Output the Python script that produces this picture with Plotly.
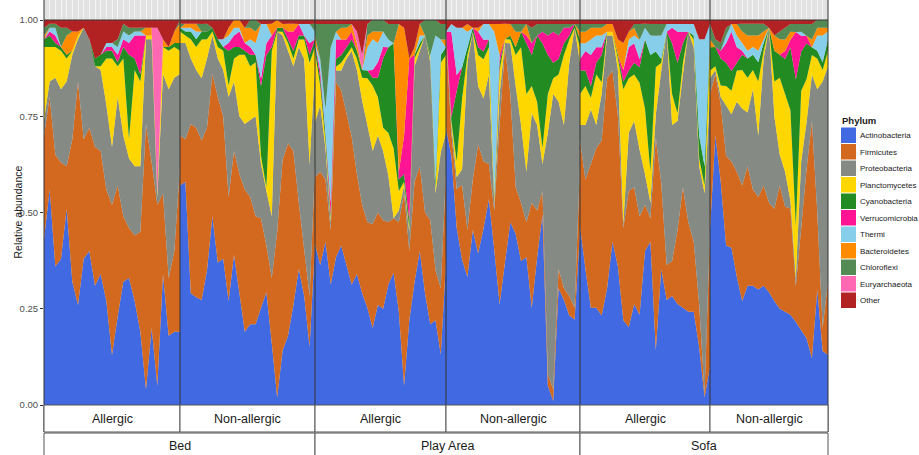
import plotly.graph_objects as go

# ---------------- data ----------------
phyla = ["Actinobacteria", "Firmicutes", "Proteobacteria", "Planctomycetes", "Cyanobacteria",
         "Verrucomicrobia", "Thermi", "Bacteroidetes", "Chloroflexi", "Euryarchaeota", "Other"]
colors = ["#4169E1", "#D2691E", "#858A85", "#FFD700", "#228B22",
          "#FF1493", "#87CEEB", "#FF8C00", "#548B54", "#FF69B4", "#B22222"]

panel_sizes = [25, 26, 26, 26, 25, 23]
panel_status = ["Allergic", "Non-allergic", "Allergic", "Non-allergic", "Allergic", "Non-allergic"]
locations = ["Bed", "Play Area", "Sofa"]
y_ticks = [0, 0.25, 0.5, 0.75, 1.0]
y_ticklabels = ["0.00", "0.25", "0.50", "0.75", "1.00"]

# relative abundance per sample (panels in order: Bed-A, Bed-N, Play-A, Play-N, Sofa-A, Sofa-N)
actinobacteria = (
    [.43, .56, .36, .38, .51, .32, .26, .38, .40, .31, .34, .27, .13, .23, .32, .33, .27, .19, .04, .20, .05, .34, .18, .19, .19]
    + [.57, .58, .29, .28, .27, .35, .49, .37, .38, .27, .39, .29, .19, .21, .21, .25, .29, .16, .02, .14, .18, .26, .35, .28, .15, .42]
    + [.41, .36, .42, .31, .38, .41, .36, .31, .34, .29, .25, .20, .26, .25, .31, .34, .24, .05, .22, .32, .40, .29, .21, .22, .13, .37]
    + [.72, .64, .45, .37, .33, .45, .39, .45, .53, .40, .26, .37, .47, .44, .37, .38, .25, .38, .49, .05, .01, .30, .27, .23, .22, .45]
    + [.46, .35, .25, .25, .23, .30, .42, .36, .22, .20, .26, .23, .40, .42, .14, .35, .27, .28, .26, .25, .24, .24, .15, .02, .10]
    + [.45, .70, .58, .41, .40, .33, .27, .31, .31, .30, .31, .29, .27, .25, .24, .23, .21, .19, .17, .12, .30, .14, .13]
)
firmicutes = (
    [.27, .24, .29, .25, .11, .37, .58, .31, .32, .36, .32, .29, .39, .34, .17, .13, .17, .26, .69, .43, .47, .21, .15, .21, .43]
    + [.13, .11, .44, .44, .41, .37, .37, .43, .37, .27, .27, .31, .37, .33, .28, .23, .12, .17, .43, .49, .50, .40, .17, .12, .13, .20]
    + [.17, .24, .16, .14, .45, .40, .39, .38, .26, .23, .22, .27, .24, .23, .16, .14, .23, .50, .18, .26, .22, .21, .27, .13, .17, .23]
    + [.24, .06, .10, .19, .12, .13, .28, .17, .09, .10, .46, .56, .33, .12, .15, .09, .27, .12, .06, .03, .03, .05, .03, .05, .03, .17]
    + [.22, .23, .37, .41, .45, .54, .44, .39, .24, .35, .30, .25, .12, .06, .54, .22, .09, .09, .19, .31, .23, .18, .11, .01, .35]
    + [.35, .16, .20, .23, .22, .27, .30, .31, .25, .24, .26, .23, .24, .32, .27, .27, .09, .26, .43, .61, .20, .06, .19]
)
proteobacteria = (
    [.04, .04, .20, .19, .22, .22, .11, .29, .23, .21, .21, .22, .15, .23, .21, .18, .18, .17, .22, .32, .02, .31, .49, .45, .24]
    + [.24, .25, .17, .15, .16, .18, .10, .10, .12, .26, .18, .15, .17, .20, .26, .14, .14, .16, .52, .32, .24, .22, .40, .49, .34, .26]
    + [.14, .17, .08, .02, .03, .05, .14, .22, .27, .27, .25, .19, .20, .18, .12, 0, .03, .02, .05, .30, .30, .46, .41, .20, .35, .10]
    + [.01, .02, .03, .04, .43, .38, .15, .16, .23, .02, .08, .01, .13, .26, .20, .13, .23, .22, .07, .62, .76, .43, .42, .60, .72, .26]
    + [.04, .14, .14, .06, .12, .11, .09, .12, .01, .15, .17, .17, .08, .04, .06, .29, .60, .35, .28, .29, .49, .50, .36, .52, .35]
    + [.04, .01, .02, .13, .12, .18, .20, .14, .26, .16, .33, .45, .24, .08, .09, .02, .02, .17, .12, .12, .32, .64, .56]
)
planctomycetes = (
    [.19, .09, .08, .10, .06, .01, .01, 0, 0, 0, .01, .12, .23, .08, .20, .05, .25, .22, .01, .01, .01, .07, .10, .08, .06]
    + [.03, .02, .05, .06, .10, .05, .01, .03, .05, .03, .06, .16, .18, .14, .14, .02, .01, .43, 0, .01, .02, .02, .02, .05, .26, .05]
    + [.18, .05, .02, .01, .01, .02, .01, .01, .03, .06, .12, .17, .10, .06, .11, .18, .05, .01, .01, .02, .01, 0, .01, .01, .23, .20]
    + [0, .01, .04, .18, .02, 0, .08, .10, .07, .01, .06, .01, .01, .08, .20, .20, .07, .06, .04, .10, .04, .07, .18, .06, 0, .04]
    + [.08, .10, .03, .13, .03, .01, .01, .03, .35, .14, .12, .17, .17, .08, .12, .02, 0, .08, .02, .03, 0, .02, .02, .02, .13]
    + [.02, .01, .03, .05, .06, .08, .10, .09, .05, .14, .02, 0, .09, .20, .20, .23, .13, .18, .11, .05, .08, .03, .04]
)
cyanobacteria = (
    [.02, .03, .01, .01, .01, 0, 0, 0, 0, .02, .03, .02, .02, .01, .03, .22, .03, .02, 0, 0, 0, 0, .01, .01, .02]
    + [.01, .01, .02, .02, .02, .02, .01, .02, .01, .09, .03, .02, .01, .03, .02, .18, .34, .01, .01, .01, .01, .02, .01, .01, .02, .02]
    + [.02, .02, .02, .01, .02, .02, .02, .02, .02, .02, .02, .02, .05, .18, .22, .27, .03, .02, .02, .01, .01, 0, .01, .02, .02, .02]
    + [0, .01, .18, .08, .02, .01, .02, .02, .02, .01, .02, 0, .01, .02, .04, .13, .08, .17, .27, .10, .04, .04, .03, .01, .01, .02]
    + [.06, .04, .03, .03, .07, 0, 0, .01, .02, .02, .03, .04, .18, .30, .04, .01, 0, .13, .13, .05, 0, .01, .06, .05, .02]
    + [.06, .05, .07, .06, .05, .02, .04, .05, .04, .05, .02, 0, .08, .06, .09, .16, .37, .10, .09, .02, .02, .02, .03]
)
verrucomicrobia = (
    [0, .01, .02, 0, 0, 0, 0, 0, 0, 0, 0, .01, .01, .02, .02, .03, .06, .10, 0, 0, 0, 0, 0, 0, 0]
    + [0, 0, 0, 0, 0, 0, 0, 0, 0, .02, .03, .04, .02, .02, 0, .02, .03, .03, 0, 0, .02, .05, .03, 0, .03, 0]
    + [0, .02, 0, .03, .05, .04, .02, .02, 0, 0, 0, .02, .04, .03, 0, 0, .02, .10, .42, 0, 0, 0, 0, 0, 0, 0]
    + [0, .22, .04, 0, 0, 0, .04, .03, 0, 0, .02, 0, 0, 0, 0, .02, .03, 0, .03, .05, .08, .06, .04, .02, 0, 0]
    + [.03, .05, .08, .04, .02, 0, 0, 0, .03, .06, .05, .02, 0, 0, 0, 0, 0, .04, .08, .03, 0, 0, 0, 0, 0]
    + [0, 0, .02, .05, .10, .04, .01, 0, 0, 0, 0, 0, 0, 0, .02, .02, .12, .04, .02, 0, 0, 0, 0]
)
thermi = (
    [0, .01, .02, 0, 0, 0, 0, 0, 0, 0, 0, .01, .01, .02, .02, .02, .01, .01, 0, 0, 0, 0, 0, 0, 0]
    + [0, .01, .01, .02, 0, 0, 0, 0, .02, .02, .02, .01, 0, .02, .03, .14, .05, 0, 0, 0, 0, 0, 0, .03, .05, .02]
    + [0, .03, .06, .40, .02, 0, 0, 0, 0, 0, .06, .08, .05, .04, .02, 0, 0, 0, 0, 0, .02, 0, 0, .38, .04, 0]
    + [0, .02, .12, .10, .04, 0, 0, .04, .04, .42, 0, 0, 0, 0, 0, 0, 0, 0, 0, 0, 0, 0, 0, 0, 0, 0]
    + [.04, .02, .04, .03, .03, 0, 0, 0, 0, .02, .02, .05, .03, .05, .04, .06, .02, .01, .02, .02, .02, .03, .25, .33, .03]
    + [0, 0, 0, .02, .02, .03, .02, .02, .02, .03, .01, 0, 0, 0, 0, 0, 0, .01, 0, 0, .04, .07, .02]
)
bacteroidetes = (
    [.01, 0, 0, 0, .05, .05, .01, 0, 0, 0, 0, 0, 0, 0, 0, 0, 0, 0, .02, .02, 0, .02, 0, .03, .05]
    + [0, .01, .01, .02, 0, 0, 0, 0, 0, .02, .02, .02, .04, .03, .03, 0, 0, .03, .02, .01, .02, .02, 0, 0, 0, 0]
    + [.02, 0, 0, 0, 0, .03, .03, .02, .02, 0, .03, .02, .03, 0, 0, 0, .38, .28, 0, .02, .03, 0, 0, 0, 0, .02]
    + [0, 0, 0, 0, .02, 0, .01, 0, 0, .02, .08, .04, .03, .04, 0, .03, 0, 0, 0, 0, 0, 0, 0, 0, 0, .02]
    + [.03, .03, .03, .02, .02, .02, .02, .04, .07, .02, .02, 0, 0, 0, 0, 0, 0, 0, 0, 0, 0, 0, 0, 0, 0]
    + [.02, 0, 0, 0, 0, .03, .03, .04, .03, .04, .02, 0, .04, .04, .03, .02, 0, 0, 0, .02, .02, .02, .01]
)
chloroflexi = (
    [.02, .01, .01, .05, .02, 0, 0, 0, 0, 0, 0, 0, 0, .02, .02, .02, .01, .01, 0, 0, 0, 0, 0, 0, .01]
    + [.01, 0, 0, 0, .02, .02, 0, 0, 0, 0, 0, 0, 0, .02, .03, 0, 0, 0, 0, 0, 0, 0, 0, 0, 0, .02]
    + [.03, .09, .22, .06, .02, .01, .01, 0, 0, 0, .03, .03, .03, .03, .04, .05, 0, 0, 0, 0, 0, .04, .09, .04, .04, .04]
    + [0, 0, 0, 0, 0, 0, 0, 0, 0, 0, 0, 0, 0, .02, .02, 0, .04, .03, .02, .03, .02, .03, .01, .01, 0, .02]
    + [.02, .02, .01, .01, .01, 0, 0, 0, 0, 0, .01, .04, .01, .03, .03, .03, 0, 0, 0, 0, 0, 0, 0, 0, 0]
    + [.04, .02, .02, .02, 0, 0, .02, .03, .03, .03, .02, 0, 0, .02, .03, .02, .02, .02, .03, .04, .02, .02, .02]
)
euryarchaeota = (
    [0, 0, 0, 0, 0, 0, 0, 0, 0, 0, 0, 0, 0, 0, 0, 0, 0, 0, 0, 0, .43, 0, 0, 0, 0]
    + [0] * 26
    + [0, 0, 0, 0, 0, 0, 0, 0, .03, .04, 0, 0, 0, 0, 0, 0, 0, 0, 0, 0, 0, 0, 0, 0, 0, 0]
    + [0] * 26
    + [0] * 25
    + [0] * 23
)
other = (
    [.02, .01, .01, .02, .02, .03, .03, .02, .05, .10, .09, .06, .06, .05, .01, .02, .02, .02, .02, .02, .02, .05, .07, .03, 0]
    + [.01, .01, .01, .01, .01, .01, .02, .05, .05, .02, 0, 0, .02, 0, 0, .01, .01, .01, 0, .01, .01, .01, .01, .01, .01, .01]
    + [.01, .01, .01, .01, .01, .01, .01, .01, .03, .09, .01, 0, 0, 0, .01, .01, .01, .02, .10, .07, .01, 0, 0, 0, .01, .01]
    + [.03, .01, .02, .02, .01, .02, .02, .01, .01, .01, .01, .01, .01, .01, .01, .01, .02, .01, .01, .01, .01, .01, .01, .01, .01, .01]
    + [.01, .01, .01, .01, .01, .01, .01, .05, .06, .03, .01, .01, .01, .01, .01, .01, .01, .01, .01, .01, .01, .01, .05, .05, .01]
    + [.01, .05, .06, .02, .01, .01, .01, .01, .01, .01, .01, .02, .04, .03, .02, .01, .01, .01, .01, .01, 0, 0, 0]
)

series = [actinobacteria, firmicutes, proteobacteria, planctomycetes, cyanobacteria,
          verrucomicrobia, thermi, bacteroidetes, chloroflexi, euryarchaeota, other]

# ---------------- layout geometry (pixels of the 919x455 canvas) ----------------
W, H = 919, 455
PX_L, PX_R = 44, 828          # plot area left / right
PX_ONE, PX_ZERO = 20, 405     # y=1 and y=0
edges_px = [44, 180, 315, 446, 580, 710, 828]
plot_w = PX_R - PX_L
dom = [(e - PX_L) / plot_w for e in edges_px]
y_top = PX_ZERO / (PX_ZERO - PX_ONE)


def pxx(px):
    return (px - PX_L) / plot_w


def pxy(py):
    return (PX_ZERO - py) / PX_ZERO


FONT = "Liberation Sans, Arial, sans-serif"

fig = go.Figure()
start = 0
for i, n in enumerate(panel_sizes):
    xa = "x" if i == 0 else f"x{i + 1}"
    xs = list(range(n))
    for k, name in enumerate(phyla):
        fig.add_trace(go.Scatter(
            x=xs, y=series[k][start:start + n], name=name,
            stackgroup=f"panel{i}", groupnorm="fraction", mode="none",
            fillcolor=colors[k], xaxis=xa, yaxis="y", showlegend=False,
            hovertemplate=name + ": %{y:.2f}<extra></extra>"))
    start += n
    key = "xaxis" if i == 0 else f"xaxis{i + 1}"
    fig.update_layout(**{key: dict(
        domain=[dom[i], dom[i + 1]], range=[0, n - 1], anchor="y",
        showticklabels=False, ticks="", showgrid=True, gridcolor="#f4f4f4",
        gridwidth=1, dtick=1, tick0=0, zeroline=False, showline=False, fixedrange=True)})

fig.update_layout(
    width=W, height=H, autosize=False,
    margin=dict(l=PX_L, r=W - PX_R, t=0, b=H - PX_ZERO, pad=0),
    paper_bgcolor="white", plot_bgcolor="#e2e2e2",
    font=dict(family=FONT, color="#1a1a1a"),
    showlegend=False,
    yaxis=dict(domain=[0, 1], range=[0, y_top], tickvals=y_ticks, ticktext=y_ticklabels,
               ticks="outside", ticklen=3, tickcolor="#333333", tickwidth=1,
               tickfont=dict(size=9.5, color="#4d4d4d", family=FONT),
               showgrid=False, zeroline=False, showline=False, anchor="x", fixedrange=True),
)

shapes = []
annotations = []

# top border of panels (y = 1)
shapes.append(dict(type="line", xref="paper", yref="y", x0=0, x1=1, y0=1, y1=1,
                   line=dict(color="#333333", width=1)))
# panel separators
for d in dom:
    shapes.append(dict(type="line", xref="paper", yref="paper", x0=d, x1=d,
                       y0=pxy(432), y1=1, line=dict(color="#333333", width=1)))

# facet strips: condition row
for i, lab in enumerate(panel_status):
    shapes.append(dict(type="rect", xref="paper", yref="paper", x0=dom[i], x1=dom[i + 1],
                       y0=pxy(432), y1=pxy(405), fillcolor="white",
                       line=dict(color="#555555", width=1), layer="above"))
    annotations.append(dict(text=lab, xref="paper", yref="paper",
                            x=(dom[i] + dom[i + 1]) / 2, y=pxy(419), showarrow=False,
                            xanchor="center", yanchor="middle",
                            font=dict(size=12.5, family=FONT, color="#1a1a1a")))
# facet strips: location row
for j, lab in enumerate(locations):
    x0, x1 = dom[2 * j], dom[2 * j + 2]
    shapes.append(dict(type="rect", xref="paper", yref="paper", x0=x0, x1=x1,
                       y0=pxy(470), y1=pxy(433), fillcolor="white",
                       line=dict(color="#555555", width=1), layer="above"))
    annotations.append(dict(text=lab, xref="paper", yref="paper",
                            x=(x0 + x1) / 2, y=pxy(446), showarrow=False,
                            xanchor="center", yanchor="middle",
                            font=dict(size=12.5, family=FONT, color="#1a1a1a")))

# y-axis title
annotations.append(dict(text="Relative abundance", xref="paper", yref="y",
                        x=pxx(17), y=0.5, textangle=-90, showarrow=False,
                        xanchor="center", yanchor="middle",
                        font=dict(size=10.5, family=FONT, color="#1a1a1a")))

# legend (ggplot-style square keys)
annotations.append(dict(text="<b>Phylum</b>", xref="paper", yref="paper",
                        x=pxx(840), y=pxy(121), showarrow=False,
                        xanchor="left", yanchor="middle",
                        font=dict(size=9.5, family=FONT, color="#1a1a1a")))
for k, name in enumerate(phyla):
    top = 127.5 + 16.5 * k
    shapes.append(dict(type="rect", xref="paper", yref="paper",
                       x0=pxx(841), x1=pxx(856), y0=pxy(top + 15.5), y1=pxy(top),
                       fillcolor=colors[k], line=dict(width=0)))
    annotations.append(dict(text=name, xref="paper", yref="paper",
                            x=pxx(858), y=pxy(top + 8), showarrow=False,
                            xanchor="left", yanchor="middle",
                            font=dict(size=8, family=FONT, color="#1a1a1a")))

fig.update_layout(shapes=shapes, annotations=annotations)
fig.write_html("out.html", config={"displayModeBar": False},
               post_script="document.body.style.margin='0px';")
